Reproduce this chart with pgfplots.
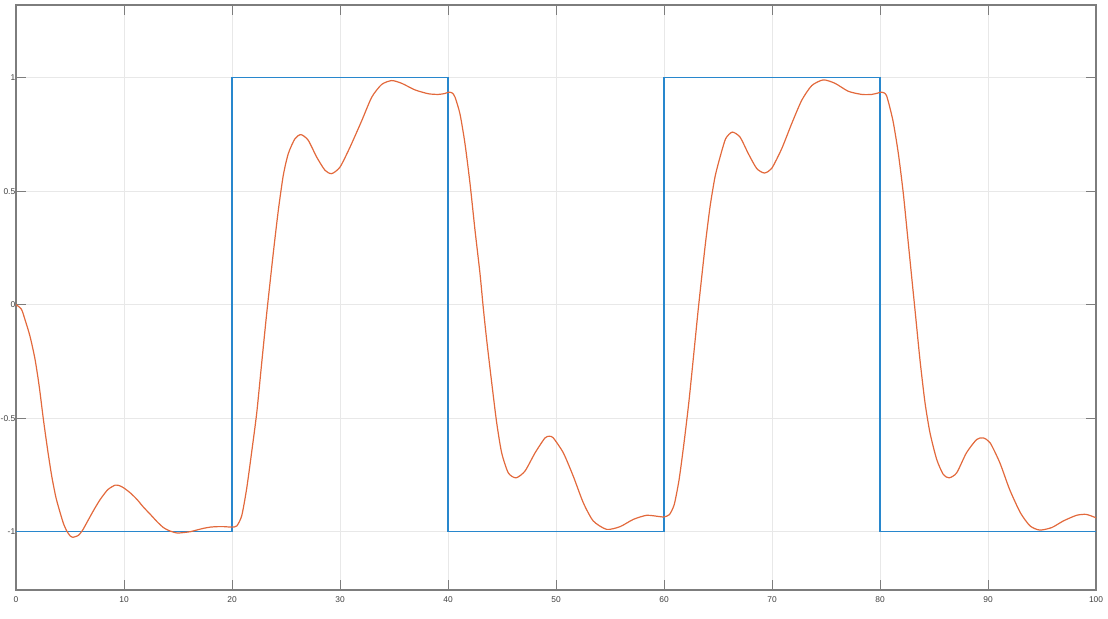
\documentclass[border=0pt]{standalone}
\usepackage{pgfplots}
\pgfplotsset{compat=1.18}
\usepackage{fontspec}
\setmainfont{Liberation Sans}
\definecolor{mblue}{RGB}{40,135,205}
\definecolor{morange}{RGB}{226,105,60}
\definecolor{gridc}{RGB}{232,232,232}
\definecolor{axc}{RGB}{125,125,125}
\begin{document}
\begin{tikzpicture}[x=1pt,y=1pt]
\path[use as bounding box] (0,0) rectangle (554,309.5);
\begin{axis}[
  at={(8pt,14.5pt)}, anchor=south west,
  scale only axis, width=540pt, height=292.5pt,
  xmin=0, xmax=100, ymin=-1.257, ymax=1.32,
  xtick={0,10,...,100},
  ytick={-1,-0.5,0,0.5,1},
  yticklabels={-1,-0.5,0,0.5,1},
  tick align=inside,
  major tick length=5pt,
  grid=major,
  major grid style={gridc, line width=0.5pt},
  axis line style={axc, line width=0.6pt},
  every tick/.style={axc, line width=0.5pt},
  tick label style={font=\fontsize{4.2}{5}\selectfont, text=black!75},
  /pgf/number format/assume math mode=true,
  xticklabel style={yshift=0.3pt},
  yticklabel style={inner sep=0.5pt, xshift=0.3pt},
  clip=true,
]
\addplot[mblue, line width=0.7pt] coordinates {
(0,-1) (20,-1) (20,1) (40,1) (40,-1) (60,-1) (60,1) (80,1) (80,-1) (100,-1)
};
\addplot[morange, line width=0.6pt, smooth, tension=0.4] coordinates {
(0,0) (0.5,-0.02) (0.84,-0.067) (1.3,-0.14) (1.76,-0.24) (2.15,-0.36) (2.54,-0.507)
(2.93,-0.64) (3.31,-0.756) (3.7,-0.85) (4.09,-0.917) (4.4,-0.965) (4.7,-0.997)
(5.0,-1.018) (5.26,-1.025) (5.5,-1.022) (5.79,-1.016) (6.15,-0.995) (6.56,-0.96)
(7.2,-0.905) (7.8,-0.858) (8.5,-0.815) (9.19,-0.795) (9.6,-0.798) (9.97,-0.807)
(10.6,-0.83) (11.2,-0.858) (11.8,-0.892) (12.44,-0.924) (13.1,-0.958) (13.68,-0.983)
(14.3,-0.998) (14.92,-1.006) (15.5,-1.004) (16.16,-1.0) (16.8,-0.992) (17.4,-0.985)
(18.0,-0.980) (18.6,-0.978) (19.3,-0.978) (19.97,-0.98) (20.44,-0.975) (20.9,-0.93)
(21.36,-0.81) (21.82,-0.65) (22.29,-0.477) (22.75,-0.257) (23.21,-0.04) (23.82,0.226)
(24.29,0.416) (24.75,0.57) (25.21,0.665) (25.83,0.731) (26.39,0.749) (27.06,0.724)
(27.84,0.65) (28.61,0.592) (29.23,0.577) (30.0,0.606) (30.93,0.694) (32.01,0.81)
(32.94,0.914) (33.86,0.97) (34.79,0.987) (35.71,0.975) (36.94,0.946) (38.18,0.929)
(39.1,0.926) (39.7,0.93) (40.09,0.936) (40.4,0.932) (40.65,0.914) (41.11,0.84)
(41.57,0.71) (42.04,0.533) (42.5,0.328) (42.96,0.138) (43.27,-0.016) (43.58,-0.155)
(44.05,-0.345) (44.51,-0.521) (44.97,-0.653) (45.58,-0.741) (46.3,-0.763) (47.13,-0.733)
(48.06,-0.653) (48.98,-0.587) (49.4,-0.58) (49.75,-0.587) (50.68,-0.653) (51.6,-0.756)
(52.53,-0.873) (53.45,-0.953) (54.69,-0.99) (55.93,-0.978) (57.16,-0.946) (58.4,-0.928)
(59.63,-0.934) (60.0,-0.935) (60.5,-0.925) (60.95,-0.88) (61.4,-0.77) (61.85,-0.61)
(62.3,-0.43) (62.75,-0.22) (63.18,-0.016) (63.8,0.255) (64.26,0.43) (64.72,0.562)
(65.19,0.65) (65.71,0.731) (66.32,0.76) (67.04,0.738) (67.81,0.665) (68.58,0.6)
(69.29,0.58) (69.97,0.6) (70.9,0.687) (71.82,0.797) (72.75,0.9) (73.68,0.965)
(74.75,0.99) (75.83,0.975) (77.06,0.94) (78.31,0.926) (79.23,0.926) (79.8,0.932)
(80.15,0.936) (80.6,0.921) (81.2,0.81) (81.7,0.665) (82.16,0.489) (82.6,0.28)
(82.93,0.123) (83.24,-0.023) (83.7,-0.243) (84.17,-0.433) (84.63,-0.565) (85.25,-0.682)
(85.86,-0.748) (86.4,-0.763) (87.1,-0.741) (88.0,-0.653) (88.95,-0.594) (89.56,-0.587)
(90.2,-0.609) (91.1,-0.697) (92.0,-0.814) (93.0,-0.917) (93.9,-0.975) (94.8,-0.993)
(95.9,-0.982) (96.97,-0.953) (98.2,-0.928) (99.1,-0.924) (100,-0.939)
};
\end{axis}
\end{tikzpicture}
\end{document}
